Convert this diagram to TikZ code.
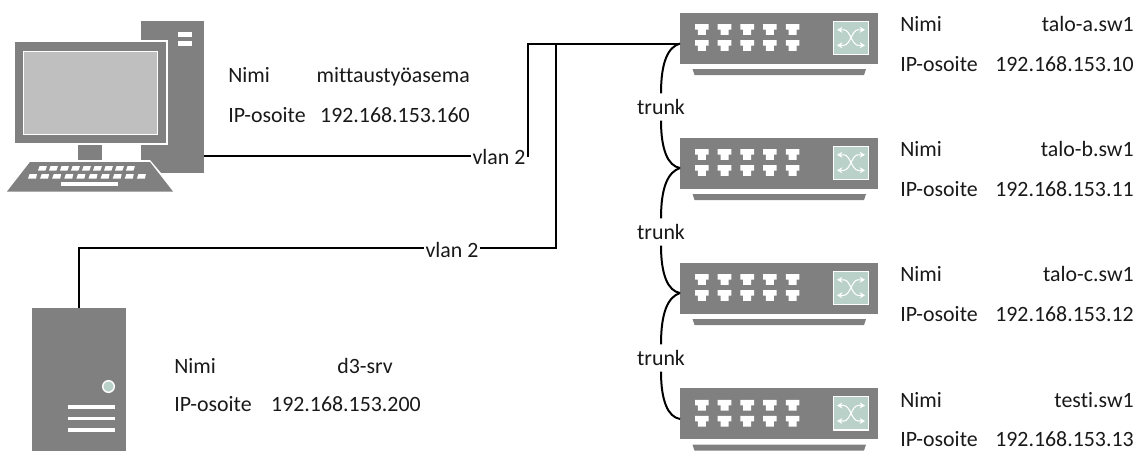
\documentclass[tikz,border=0pt]{standalone}
\usepackage{fontspec}
\setmainfont[Ligatures=NoCommon]{Carlito}
\usetikzlibrary{arrows.meta}
\definecolor{devgray}{RGB}{128,128,128}
\definecolor{screengray}{RGB}{191,191,191}
\definecolor{paleg}{RGB}{185,209,201}
\tikzset{
  x=0.75pt,y=-0.75pt,
  txt/.style={font=\fontsize{16.4pt}{18pt}\selectfont,inner sep=0pt,text=black!90,anchor=base west},
  txr/.style={txt,anchor=base east},
  link/.style={draw=black,line width=1.5pt},
  lab/.style={font=\fontsize{16.4pt}{18pt}\selectfont,inner sep=0.7pt,text=black!90},
  trk/.style={lab,minimum height=20pt},
  dev/.style={draw=none,fill=devgray,inner sep=0pt,anchor=north west},
  cut/.style={fill=white,draw=none},
}
\newcommand{\switchicon}[2]{%
  \node[dev,minimum width=148.5pt,minimum height=38.2pt] (#1) at (680,#2) {};
  \begin{scope}[shift={(680,#2)}]
    \fill[devgray] (12.5,56.7) -- (186,56.7) -- (184,62.7) -- (14.5,62.7) -- cycle;
    \foreach \i in {0,1,2,3,4}{
      \foreach \r in {0,16}{
        \fill[cut,shift={(15+22.7*\i,11.8+\r)}] (0,0) -- (13.6,0) -- (13.6,5.5) -- (10.8,5.5) -- (10.8,10.8) -- (2.8,10.8) -- (2.8,5.5) -- (0,5.5) -- cycle;
      }
    }
    \filldraw[draw=white,line width=0.9pt,fill=paleg] (153.2,8.8) rectangle (188.2,42);
    \draw[white,line width=0.8pt,{Stealth[length=4pt,width=4.5pt]}-{Stealth[length=4pt,width=4.5pt]}]
      (157,17.5) -- (164,17.5) .. controls (170,17.5) and (172,33) .. (178,33) -- (185,33);
    \draw[white,line width=0.8pt,{Stealth[length=4pt,width=4.5pt]}-{Stealth[length=4pt,width=4.5pt]}]
      (157,33) -- (164,33) .. controls (170,33) and (172,17.5) .. (178,17.5) -- (185,17.5);
  \end{scope}
}
\begin{document}
\begin{tikzpicture}
\useasboundingbox (0,0) rectangle (1142,450);
% workstation
\node[dev,minimum width=47.25pt,minimum height=114pt] (tower) at (140.5,20.5) {};
\fill[cut] (178,31.5) rectangle (192,36.5);
\fill[cut] (178,41) rectangle (192,46);
\fill[cut] (140,40) rectangle (168.3,145);
\fill[cut] (139.5,160) -- (150,160) -- (161,173) -- (139.5,173) -- cycle;
\fill[devgray] (15,42) rectangle (166,143);
\filldraw[draw=white,line width=0.75pt,fill=screengray] (23.5,51) rectangle (157.5,134.5);
\fill[devgray] (77.5,145) rectangle (102,159.5);
\fill[devgray] (30,162) -- (150,162) -- (173,191.5) -- (7,191.5) -- cycle;
\foreach \i in {0,...,8}{
  \fill[cut,shift={(38+11*\i,166)}] (1.6,0) -- (9,0) -- (7.4,4.5) -- (0,4.5) -- cycle;
}
\foreach \i in {0,...,9}{
  \fill[cut,shift={(28+12.1*\i,174)}] (1.6,0) -- (9,0) -- (8,4.5) -- (0,4.5) -- cycle;
}
\fill[cut] (61,182) rectangle (118,186);
% server
\node[dev,minimum width=70.5pt,minimum height=107.5pt] (srv) at (32,307.5) {};
\filldraw[draw=white,line width=1.1pt,fill=paleg] (108.5,386.5) circle (5.8);
\fill[cut] (67.5,405) rectangle (114.5,408.5);
\fill[cut] (67.5,416.5) rectangle (114.5,420);
\fill[cut] (67.5,428) rectangle (114.5,431.5);
% switches
\switchicon{sw1}{12.3}
\switchicon{sw2}{137.3}
\switchicon{sw3}{262.3}
\switchicon{sw4}{388}
\coordinate (p1) at (680,43.5);
\coordinate (p2) at (680,168);
\coordinate (p3) at (680,293);
\coordinate (p4) at (680,419);
\coordinate (bendA) at (528,43.5);
\coordinate (bendB) at (556,43.5);
\coordinate (pcport) at (203.5,155.5);
\coordinate (bendC) at (528,155.5);
\coordinate (srvup) at (79,248);
\coordinate (bendD) at (556,248);
% connectors
\node[lab] (v1) at (499,156.5) {vlan 2};
\node[lab] (v2) at (452,249.5) {vlan 2};
\node[trk] (t1) at (661,107) {trunk};
\node[trk] (t2) at (661,232) {trunk};
\node[trk] (t3) at (661,358) {trunk};
\draw[link] (pcport) -- (v1.west |- pcport);
\draw[link] (v1.east |- pcport) -- (bendC) -- (bendA) -- (p1);
\draw[link] (srv.north -| srvup) -- (srvup) -- (v2.west |- srvup);
\draw[link] (v2.east |- srvup) -- (bendD) -- (bendB);
\draw[link] (p1) .. controls (668,47) and (661,62) .. (t1.north);
\draw[link] (t1.south) .. controls (661,150) and (668,166) .. (p2);
\draw[link] (p2) .. controls (668,172) and (661,187) .. (t2.north);
\draw[link] (t2.south) .. controls (661,275) and (668,291) .. (p3);
\draw[link] (p3) .. controls (668,297) and (661,312) .. (t3.north);
\draw[link] (t3.south) .. controls (661,401) and (668,417) .. (p4);
% texts
\node[txt] (a1) at (228,82) {Nimi};
\node[txr] (a2) at (470,82) {mittaustyöasema};
\node[txt] (a3) at (228,122) {IP-osoite};
\node[txr] (a4) at (470,122) {192.168.153.160};
\node[txt] (b1) at (174,373) {Nimi};
\node[txt] (b2) at (337,373) {d3-srv};
\node[txt] (b3) at (174,411) {IP-osoite};
\node[txr] (b4) at (421,411) {192.168.153.200};
\foreach \n/\nm/\ya/\yb/\ip in {1/talo-a.sw1/31/71.5/192.168.153.10,2/talo-b.sw1/156/196.5/192.168.153.11,3/talo-c.sw1/281/321.5/192.168.153.12,4/testi.sw1/407/446.5/192.168.153.13}{
  \node[txt] (n\n) at (900,\ya) {Nimi};
  \node[txr] (m\n) at (1134,\ya) {\nm};
  \node[txt] (i\n) at (900,\yb) {IP-osoite};
  \node[txr] (j\n) at (1134,\yb) {\ip};
}
\end{tikzpicture}
\end{document}
